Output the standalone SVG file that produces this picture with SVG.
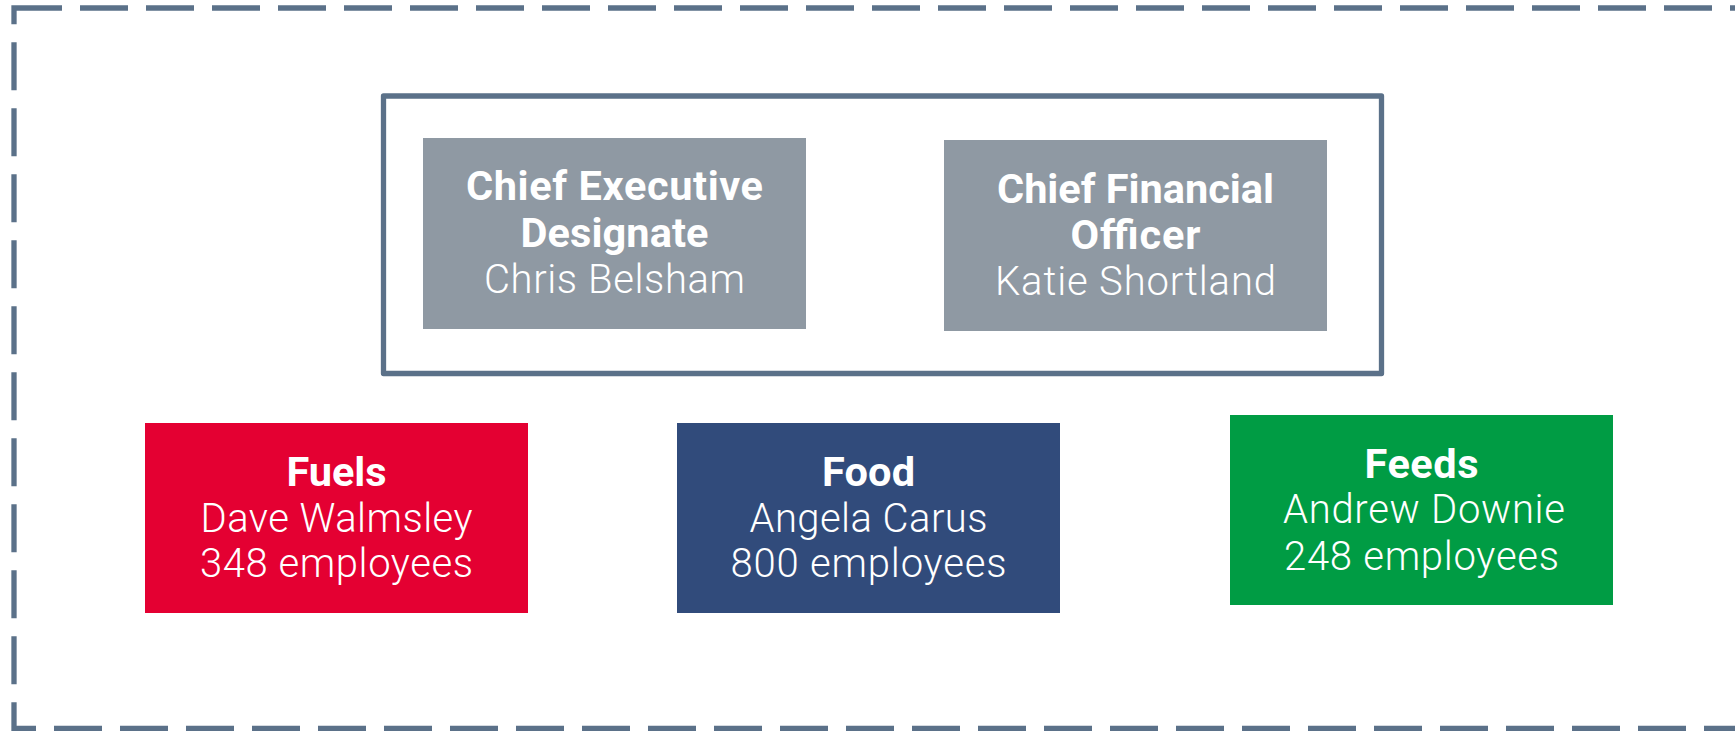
<svg xmlns="http://www.w3.org/2000/svg" width="1735" height="732" viewBox="0 0 1735 732">
  <style>
    .frame { fill: none; stroke: #5b7189; stroke-width: 5.3; }
    .dashed { stroke-dasharray: 48 18; }
    .solid { stroke-linejoin: round; }
    .box { stroke: none; }
    .grey { fill: #8f99a3; }
    .red { fill: #e40032; }
    .navy { fill: #314b7b; }
    .green { fill: #009c44; }
    text { fill: #ffffff; text-anchor: middle; font-family: Roboto, "Liberation Sans", sans-serif; }
    .b { font-weight: 700; font-size: 41.5px; }
    .l { font-weight: 300; font-size: 40px; }
  </style>
  <rect width="1735" height="732" fill="#ffffff"/>
  <g id="boundary">
    <rect class="frame dashed" x="14" y="8" width="1729.85" height="720.3"/>
  </g>
  <g id="leadership">
    <rect class="frame solid" x="383.5" y="96" width="998" height="277.5"/>
  </g>
  <g id="connectors"></g>
  <g id="ceo">
    <rect class="box grey" x="423" y="138" width="383" height="191"/>
    <text class="b" x="614.5" y="200" textLength="297">Chief Executive</text>
    <text class="b" x="614.5" y="247" textLength="188">Designate</text>
    <text class="l" x="614.5" y="293" textLength="261">Chris Belsham</text>
  </g>
  <g id="cfo">
    <rect class="box grey" x="944" y="140" width="383" height="191"/>
    <text class="b" x="1135.5" y="203" textLength="277">Chief Financial</text>
    <text class="b" x="1135.5" y="248.5" textLength="130">Officer</text>
    <text class="l" x="1135.5" y="295" textLength="281">Katie Shortland</text>
  </g>
  <g id="fuels">
    <rect class="box red" x="145" y="423" width="383" height="190"/>
    <text class="b" x="336.5" y="486" textLength="100">Fuels</text>
    <text class="l" x="336.5" y="531.7" textLength="272">Dave Walmsley</text>
    <text class="l" x="336.5" y="576.7" textLength="273">348 employees</text>
  </g>
  <g id="food">
    <rect class="box navy" x="677" y="423" width="383" height="190"/>
    <text class="b" x="868.5" y="486" textLength="93">Food</text>
    <text class="l" x="868.5" y="531.7" textLength="238">Angela Carus</text>
    <text class="l" x="868.5" y="576.7" textLength="276">800 employees</text>
  </g>
  <g id="feeds">
    <rect class="box green" x="1230" y="415" width="383" height="190"/>
    <text class="b" x="1421.5" y="478.3" textLength="114">Feeds</text>
    <text class="l" x="1424" y="523.3" textLength="282">Andrew Downie</text>
    <text class="l" x="1421.5" y="570" textLength="275">248 employees</text>
  </g>
</svg>
